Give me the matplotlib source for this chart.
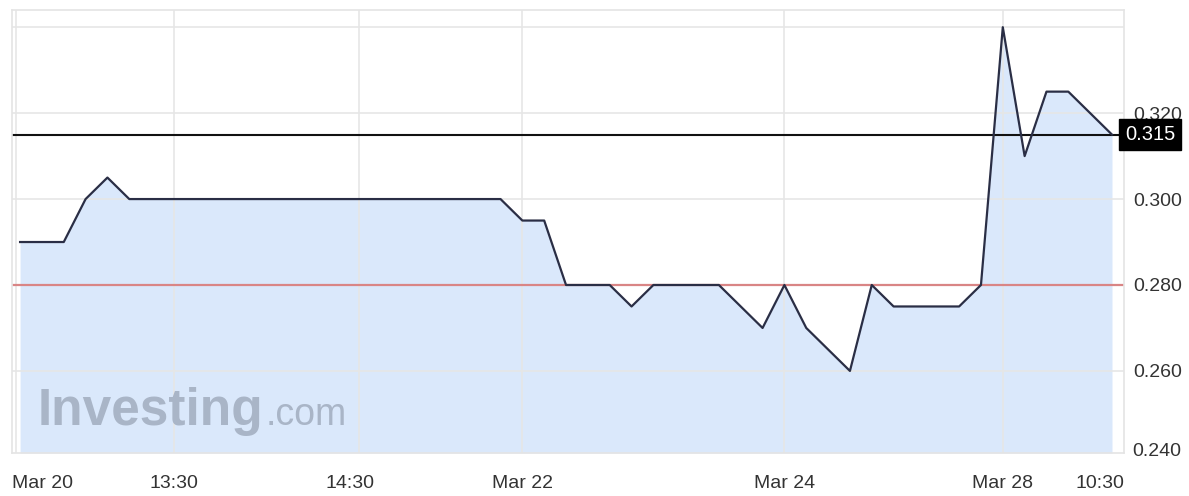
import matplotlib
matplotlib.use('Agg')
import matplotlib.pyplot as plt
import matplotlib.transforms as mtransforms

plt.rcParams['font.family'] = ['Liberation Sans', 'DejaVu Sans']

# price points (x = sample index along the chart)
pt_index = [0, 2, 3, 4, 5, 22, 23, 24, 25, 27, 28, 29, 32, 34, 35, 36, 38, 39, 40, 43, 44, 45, 46, 47, 48, 50]
price = [0.290, 0.290, 0.300, 0.305, 0.300, 0.300, 0.295, 0.295, 0.280, 0.280, 0.275, 0.280, 0.280,
         0.270, 0.280, 0.270, 0.260, 0.280, 0.275, 0.275, 0.280, 0.340, 0.310, 0.325, 0.325, 0.315]

tick_labels = ['Mar 20', '13:30', '14:30', 'Mar 22', 'Mar 24', 'Mar 28', '10:30']
tick_pos = [-0.37, 7.05, 15.1, 23, 35, 45, 50.55]
grid_pos = [-0.2, 7.05, 15.5, 23, 35, 45]
y_ticks = [0.26, 0.28, 0.30, 0.32, 0.34]
y_labels = ['0.260', '0.280', '0.300', '0.320', '']
ref_level = 0.280
last_price = 0.315

xmin, xmax = -0.37, 50.55
ymin, ymax = 0.2409, 0.3440

fig = plt.figure(figsize=(11.89, 4.96), dpi=100)
ax = fig.add_axes([12 / 1189, 43 / 496, 1112 / 1189, 443 / 496])

ax.fill_between(pt_index, price, ymin, color='#dae8fb', zorder=0.3, linewidth=0)
ax.plot(pt_index, price, color='#2a2e45', linewidth=1.6, zorder=3)
ax.axhline(ref_level, color='#d98585', linewidth=1.6, zorder=2)
ax.axhline(last_price, color='#111111', linewidth=1.5, zorder=2)
for g in grid_pos:
    ax.axvline(g, color='#e6e6e6', linewidth=1.2, zorder=0.5)

ax.set_xlim(xmin, xmax)
ax.set_ylim(ymin, ymax)

ax.set_xticks(tick_pos)
ax.set_xticklabels(tick_labels, fontsize=14, color='#333333')
labs = ax.get_xticklabels()
labs[0].set_ha('left')
labs[-1].set_ha('right')
ax.tick_params(axis='x', length=0, pad=16)

ax.yaxis.tick_right()
ax.set_yticks(y_ticks)
ax.set_yticklabels(y_labels, fontsize=14, color='#333333')
ax.tick_params(axis='y', length=0, pad=7)

ax.set_axisbelow(True)
ax.grid(axis='y', which='major', color='#e6e6e6', linewidth=1.2)

for s in ax.spines.values():
    s.set_color('#e4e4e4')
    s.set_linewidth(1.2)

trans = mtransforms.blended_transform_factory(ax.transAxes, ax.transData)
ax.text(1.007, 0.2413, '0.240', transform=trans, fontsize=14, color='#333333',
        va='center', ha='left', clip_on=False)
ax.text(1.001, last_price, '0.315', transform=trans, fontsize=14.5, color='white',
        va='center', ha='left', clip_on=False,
        bbox=dict(boxstyle='square,pad=0.3', facecolor='black', edgecolor='black'))

# watermark
fig.text(38 / 1189, 71 / 496, 'Investing', fontsize=37, fontweight='bold',
         color='#a9b5c7', va='baseline', ha='left')
fig.text(266 / 1189, 71 / 496, '.com', fontsize=27, color='#a9b5c7',
         va='baseline', ha='left')

fig.savefig('out.png', dpi=100)
